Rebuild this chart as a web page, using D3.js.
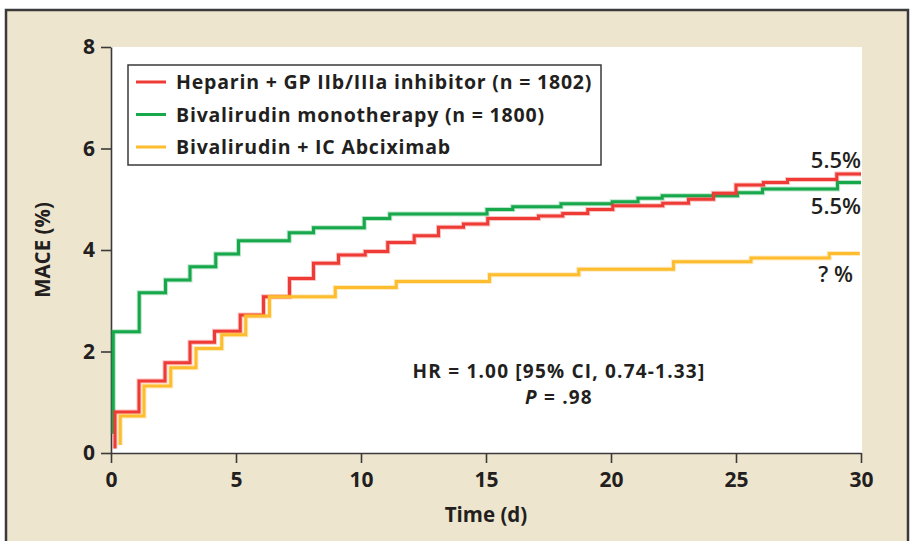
<!DOCTYPE html>
<html>
<head>
<meta charset="utf-8">
<script src="https://cdn.jsdelivr.net/npm/d3@7"></script>
<style>
  html, body { margin: 0; padding: 0; background: #fff; }
  svg { display: block; font-family: "Open Sans", sans-serif; }
</style>
</head>
<body>
<div class="container"></div>
<script>
(function(d3) {
  "use strict";

  // step points: [day, MACE %]
  var heparinDays = [0.16, 0.16, 1.12, 2.16, 3.16, 4.14, 5.17, 6.1, 7.14, 8.1, 9.1, 10.17, 11.07, 12.13, 13.1, 14.1, 15.07, 17.1, 18.07, 19.07, 20.07, 22.07, 23.1, 24.1, 25.0, 26.1, 27.06, 29.03, 30];
  var heparinMace = [0.09, 0.81, 1.42, 1.78, 2.18, 2.40, 2.72, 3.08, 3.44, 3.74, 3.90, 3.97, 4.15, 4.28, 4.45, 4.51, 4.62, 4.67, 4.72, 4.80, 4.87, 4.92, 5.00, 5.12, 5.28, 5.33, 5.39, 5.50, 5.50];

  var monoDays = [0.09, 0.09, 1.13, 2.18, 3.16, 4.19, 5.1, 7.13, 8.1, 10.13, 11.15, 15.04, 16.07, 18.0, 20.05, 21.08, 22.05, 25.06, 26.06, 29.06, 30];
  var monoMace = [0.38, 2.39, 3.16, 3.41, 3.67, 3.92, 4.18, 4.34, 4.44, 4.62, 4.71, 4.80, 4.85, 4.91, 4.95, 5.02, 5.07, 5.13, 5.20, 5.33, 5.33];

  var abcixDays = [0.37, 0.37, 1.32, 2.39, 3.4, 4.43, 5.39, 6.34, 8.97, 11.41, 15.14, 18.71, 22.5, 25.6, 28.73, 29.95];
  var abcixMace = [0.16, 0.73, 1.32, 1.68, 2.06, 2.33, 2.70, 3.08, 3.26, 3.38, 3.51, 3.62, 3.77, 3.84, 3.93, 3.93];

  var seriesNames = ["Heparin + GP IIb/IIIa inhibitor (n = 1802)", "Bivalirudin monotherapy (n = 1800)", "Bivalirudin + IC Abciximab"];
  var seriesColors = ["#ee3b35", "#17a84b", "#fdbd2e"];

  var xTicks = [0, 5, 10, 15, 20, 25, 30];
  var yTicks = [0, 2, 4, 6, 8];

  var endLabels = ["5.5%", "5.5%", "? %"];
  var endLabelY = [5.62, 4.71, 3.37];

  var width = 913, height = 541;

  var svg = d3.select(".container").append("svg")
      .attr("width", width)
      .attr("height", height);

  // beige panel
  svg.append("rect")
      .attr("x", 6)
      .attr("y", 10)
      .attr("width", 902)
      .attr("height", 545)
      .style("fill", "#eee5ce")
      .style("stroke", "#3a3a3a")
      .style("stroke-width", 2.5);

  var x = d3.scaleLinear().domain([0, 30]).range([111, 861]);
  var y = d3.scaleLinear().domain([0, 8]).range([453, 47]);

  svg.append("rect")
      .attr("x", x(0))
      .attr("y", y(8))
      .attr("width", 862 - x(0))
      .attr("height", y(0) - y(8))
      .style("fill", "#fff");

  var yAxis = svg.append("g")
      .attr("transform", svgTranslateString(x(0), 0))
      .call(d3.axisLeft(y).tickValues(yTicks).tickSize(10).tickSizeOuter(0).tickPadding(6));

  var xAxis = svg.append("g")
      .attr("transform", svgTranslateString(0, y(0)))
      .call(d3.axisBottom(x).tickValues(xTicks).tickSize(10).tickSizeOuter(0).tickPadding(9));

  [xAxis, yAxis].forEach(function(ax) {
    ax.select(".domain").style("stroke", "#3a3a3a").style("stroke-width", 1.6);
    ax.selectAll(".tick line").style("stroke", "#3a3a3a").style("stroke-width", 1.6);
    ax.selectAll(".tick text")
        .style("font-family", "Open Sans")
        .style("font-weight", 700)
        .style("font-size", "21px")
        .style("fill", "#231f20");
  });

  svg.append("text")
      .attr("transform", "translate(50," + ((y(0) + y(8)) / 2) + ") rotate(-90)")
      .attr("text-anchor", "middle")
      .style("font-weight", 700)
      .style("font-size", "20.5px")
      .style("fill", "#231f20")
      .text("MACE (%)");

  svg.append("text")
      .attr("x", (x(0) + x(30)) / 2)
      .attr("y", 522)
      .attr("text-anchor", "middle")
      .style("font-weight", 700)
      .style("font-size", "20.5px")
      .style("fill", "#231f20")
      .text("Time (d)");

  var seriesData = [
    d3.zip(heparinDays, heparinMace),
    d3.zip(monoDays, monoMace),
    d3.zip(abcixDays, abcixMace)
  ];

  var line = d3.line()
      .x(function(d) { return x(d[0]); })
      .y(function(d) { return y(d[1]); })
      .curve(d3.curveStepAfter);

  // green first, then red, then yellow on top
  [1, 0, 2].forEach(function(i) {
    svg.append("path")
        .attr("d", line(seriesData[i]))
        .style("fill", "none")
        .style("stroke", seriesColors[i])
        .style("stroke-opacity", 0.3)
        .style("stroke-width", 5);
    svg.append("path")
        .attr("d", line(seriesData[i]))
        .style("fill", "none")
        .style("stroke", seriesColors[i])
        .style("stroke-width", 3);
  });

  // legend
  var legend = svg.append("g");
  legend.append("rect")
      .attr("x", 128)
      .attr("y", 65)
      .attr("width", 473)
      .attr("height", 100)
      .style("fill", "#fff")
      .style("stroke", "#3a3a3a")
      .style("stroke-width", 1.5);

  var rows = legend.selectAll(".row")
      .data(seriesNames)
    .enter().append("g")
      .attr("class", "row")
      .attr("transform", function(d, i) {
        return svgTranslateString(136, 82 + i * 32.5);
      });

  rows.append("line")
      .attr("x1", 0)
      .attr("x2", 30)
      .style("stroke", function(d, i) { return seriesColors[i]; })
      .style("stroke-width", 3);

  rows.append("text")
      .attr("x", 40)
      .attr("dy", 7)
      .style("font-weight", 700)
      .style("font-size", "19.5px")
      .style("letter-spacing", "0.8px")
      .style("fill", "#231f20")
      .text(function(d) { return d; });

  // end labels
  svg.selectAll(".end-label")
      .data(endLabels)
    .enter().append("text")
      .attr("class", "end-label")
      .attr("x", function(d, i) { return i === 2 ? 853 : 861; })
      .attr("y", function(d, i) { return y(endLabelY[i]); })
      .attr("text-anchor", "end")
      .style("font-weight", 600)
      .style("font-size", "22px")
      .style("fill", "#231f20")
      .text(function(d) { return d; });

  // hazard ratio note
  var note = svg.append("text")
      .attr("x", 559)
      .attr("y", 378)
      .attr("text-anchor", "middle")
      .style("font-weight", 700)
      .style("font-size", "19px")
      .style("letter-spacing", "1.2px")
      .style("fill", "#231f20");
  note.append("tspan").text("HR = 1.00 [95% CI, 0.74-1.33]");

  var pLine = svg.append("text")
      .attr("x", 559)
      .attr("y", 404)
      .attr("text-anchor", "middle")
      .style("font-weight", 700)
      .style("font-size", "19px")
      .style("letter-spacing", "1.2px")
      .style("fill", "#231f20");
  pLine.append("tspan").style("font-style", "italic").text("P");
  pLine.append("tspan").text(" = .98");

  function svgTranslateString(x, y) {
    return "translate(" + x + "," + y + ")";
  }

}(d3));
</script>
</body>
</html>
